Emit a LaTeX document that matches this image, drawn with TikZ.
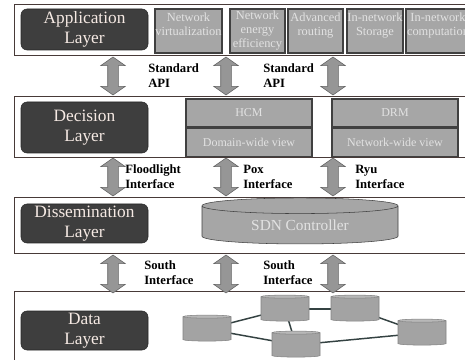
\documentclass[tikz,border=0pt]{standalone}
\usepackage{fontspec}
\setmainfont{Liberation Serif}
\usetikzlibrary{positioning, shapes.geometric, shapes.arrows, backgrounds}
\usepackage{xcolor}

\newdimen\pxu \pxu=0.75pt
\definecolor{layerline}{RGB}{72,58,56}
\definecolor{darkbox}{RGB}{62,62,62}
\definecolor{boxgray}{RGB}{166,166,166}
\definecolor{boxtext}{RGB}{226,226,226}
\definecolor{peach}{RGB}{246,234,228}
\definecolor{arrowgray}{RGB}{150,150,150}
\definecolor{arrowline}{RGB}{98,98,98}
\definecolor{linkgray}{RGB}{52,66,66}
\definecolor{swbody}{RGB}{163,163,163}
\definecolor{swtop}{RGB}{184,184,184}

\begin{document}
\begin{tikzpicture}[
        x=0.75pt, y=-0.75pt,
        layer/.style={draw=layerline, fill=white, line width=0.7pt,
                      minimum width=458\pxu, inner sep=0pt},
        title/.style={draw=black!85, fill=darkbox, rounded corners=6\pxu,
                      text=peach, minimum width=127\pxu, inner sep=0pt,
                      align=center, font=\fontsize{13}{15}\selectfont},
        func/.style={draw=black!75, fill=boxgray, text=boxtext, line width=0.8pt,
                     minimum height=44\pxu, inner sep=0pt, align=center,
                     font=\fontsize{9.3}{10.5}\selectfont},
        cell/.style={draw=black!75, fill=boxgray, text=boxtext, line width=0.8pt,
                     minimum width=126\pxu, minimum height=28\pxu, inner sep=0pt,
                     font=\fontsize{9}{10.5}\selectfont},
        updown/.style={double arrow, shape border rotate=90, draw=arrowline,
                       fill=arrowgray, minimum height=38\pxu, inner sep=5\pxu,
                       double arrow head extend=7\pxu, double arrow tip angle=110},
        iface/.style={anchor=west, align=left, inner sep=0pt,
                      font=\bfseries\fontsize{9.5}{11.3}\selectfont},
        ctrl/.style={cylinder, shape border rotate=90, draw=black!75, fill=boxgray,
                     text=boxtext, minimum width=196\pxu, minimum height=46\pxu,
                     aspect=0.16, inner sep=0pt, font=\fontsize{11.5}{13}\selectfont},
        switch/.style={cylinder, shape border rotate=90, draw=swbody!80!black,
                       line width=0.4pt, cylinder uses custom fill,
                       cylinder body fill=swbody, cylinder end fill=swtop,
                       minimum width=48\pxu, minimum height=26\pxu,
                       aspect=0.46, inner sep=0pt},
        link/.style={draw=linkgray, line width=1.1pt},
    ]
        \useasboundingbox (0,0) rectangle (465,360);
        \clip (0,0) rectangle (465,360);

        \begin{scope}[on background layer]
            \node[layer, minimum height=51\pxu] (app)  at (243,29.5)  {};
            \node[layer, minimum height=61\pxu] (dec)  at (243,126.5) {};
            \node[layer, minimum height=56\pxu] (dis)  at (243,225)   {};
            \node[layer, minimum height=89\pxu] (data) at (243,335.5) {};
        \end{scope}

        \node[title, minimum height=41\pxu] (appname)  at (84.5,29.5)  {Application\\Layer};
        \node[title, minimum height=51\pxu] (decname)  at (84.5,127.5) {Decision\\Layer};
        \node[title, minimum height=39\pxu] (disname)  at (84.5,223.5) {Dissemination\\Layer};
        \node[title, minimum height=39\pxu] (dataname) at (84.5,330.5) {Data\\Layer};

        % empty last line keeps two-line texts at the top
        \node[func, minimum width=67\pxu] (virt)    at (188.5,31) {Network\\virtualization\\\mbox{}};
        \node[func, minimum width=55\pxu] (energy)  at (257.5,31) {Network\\energy\\efficiency};
        \node[func, minimum width=55\pxu] (routing) at (315.5,31) {Advanced\\routing\\\mbox{}};
        \node[func, minimum width=56\pxu] (storage) at (375,31)   {In-network\\Storage\\\mbox{}};
        \node[func, minimum width=64\pxu] (compute) at (438,31)   {In-network\\computation\\\mbox{}};

        \node[cell] (hcm) at (249,113) {HCM};
        \node[cell, below=0pt of hcm] (hcmview) {Domain-wide view};
        \node[cell] (drm) at (395,113) {DRM};
        \node[cell, below=0pt of drm] (drmview) {Network-wide view};

        \node[ctrl] (sdn) at (300,225) {SDN Controller};

        \node[switch] (sw1) at (207,329) {\phantom{x}};
        \node[switch] (sw2) at (285,309) {\phantom{x}};
        \node[switch] (sw3) at (355,309) {\phantom{x}};
        \node[switch] (sw4) at (296,345) {\phantom{x}};
        \node[switch] (sw5) at (422,333) {\phantom{x}};

        \begin{scope}[on background layer]
            \draw[link] (sw1.center) -- (sw2.center);
            \draw[link] (sw1.center) -- (sw4.center);
            \draw[link] (sw2.center) -- (sw3.center);
            \draw[link] (sw2.center) -- (sw4.center);
            \draw[link] (sw3.center) -- (sw5.center);
            \draw[link] (sw4.center) -- (sw5.center);
        \end{scope}

        \node[updown] (up1) at (113,76)  {};
        \node[updown] (up2) at (226,76)  {};
        \node[updown] (up3) at (333,76)  {};
        \node[updown] (mid1) at (113,177) {};
        \node[updown] (mid2) at (226,177) {};
        \node[updown] (mid3) at (333,177) {};
        \node[updown] (low1) at (113,274) {};
        \node[updown] (low2) at (226,274) {};
        \node[updown] (low3) at (333,274) {};

        \node[iface] (std1)   at (148,76)  {Standard\\API};
        \node[iface] (std2)   at (263,76)  {Standard\\API};
        \node[iface] (flood)  at (125,177) {Floodlight\\Interface};
        \node[iface] (pox)    at (243,177) {Pox\\Interface};
        \node[iface] (ryu)    at (355,177) {Ryu\\Interface};
        \node[iface] (south1) at (144,273) {South\\Interface};
        \node[iface] (south2) at (263,273) {South\\Interface};
    \end{tikzpicture}
\end{document}
